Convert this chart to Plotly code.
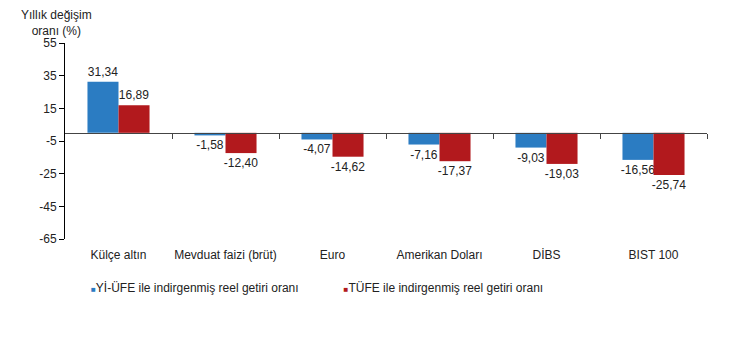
import plotly.graph_objects as go

categories = ["Külçe altın", "Mevduat faizi (brüt)", "Euro", "Amerikan Doları", "DİBS", "BIST 100"]
yiufe = [31.34, -1.58, -4.07, -7.16, -9.03, -16.56]
tufe = [16.89, -12.40, -14.62, -17.37, -19.03, -25.74]
series_names = ["Yİ-ÜFE ile indirgenmiş reel getiri oranı", "TÜFE ile indirgenmiş reel getiri oranı"]
y_ticks = [55, 35, 15, -5, -25, -45, -65]

BLUE = "#2B7CC2"
RED = "#B2191D"
FONT = "Liberation Sans, Arial, sans-serif"

def fmt(v):
    return f"{v:.2f}".replace(".", ",")

xs = list(range(len(categories)))
fig = go.Figure()
for vals, col in [(yiufe, BLUE), (tufe, RED)]:
    fig.add_trace(go.Bar(
        x=xs, y=vals, marker=dict(color=col, line=dict(width=0)),
        text=[fmt(v) for v in vals], textposition="outside", constraintext="none",
        textfont=dict(size=12, color="#222", family=FONT),
        cliponaxis=False, showlegend=False,
    ))

# legend entries
for name, col in zip(series_names, [BLUE, RED]):
    fig.add_trace(go.Scatter(
        x=[None], y=[None], mode="markers",
        marker=dict(size=1, color="rgba(0,0,0,0)"),
        name=f"<span style='color:{col};font-size:8px'>■</span>{name}",
    ))

# axis along zero line with boundary ticks
y_min, y_max = -65, 55
fig.add_trace(go.Scatter(x=[None], y=[None], xaxis="x2", showlegend=False, hoverinfo="skip"))

fig.update_layout(
    width=750, height=364,
    margin=dict(l=57, r=51, t=35, b=133),
    paper_bgcolor="white", plot_bgcolor="white",
    barmode="group", bargap=0.42, bargroupgap=0,
    font=dict(family=FONT, size=12, color="#222"),
    xaxis=dict(
        range=[-0.5, len(categories) - 0.5], tickvals=xs, ticktext=categories,
        showline=False, ticks="outside", ticklen=5, tickcolor="rgba(0,0,0,0)",
        showgrid=False, zeroline=False,
        tickfont=dict(size=12, color="#222"),
    ),
    xaxis2=dict(
        overlaying="x", anchor="free",
        position=(0 - y_min) / (y_max - y_min),
        range=[-0.5, len(categories) - 0.5],
        tickvals=[i + 0.5 for i in xs],
        showticklabels=False, ticks="outside", ticklen=5, tickcolor="#444",
        showline=True, linecolor="#444", linewidth=1, showgrid=False, zeroline=False,
    ),
    yaxis=dict(
        range=[y_min, y_max], tickvals=y_ticks, ticktext=[str(t) for t in y_ticks],
        showline=True, linecolor="black", linewidth=1, ticks="outside", ticklen=5,
        tickcolor="black", showgrid=False, zeroline=False,
        tickfont=dict(size=12, color="#222"),
    ),
    legend=dict(
        orientation="h", x=-0.0218, y=-0.245, xanchor="left", yanchor="middle",
        font=dict(size=12, color="#222"), itemwidth=30,
        bgcolor="rgba(0,0,0,0)",
    ),
    annotations=[dict(
        text="Yıllık değişim<br>oranı (%)", xref="paper", yref="paper",
        x=-9 / 642, y=1.0, xanchor="center", yanchor="bottom", yshift=3,
        showarrow=False, align="center", font=dict(size=12, color="#222"),
    )],
)

fig.write_html("out.html")
